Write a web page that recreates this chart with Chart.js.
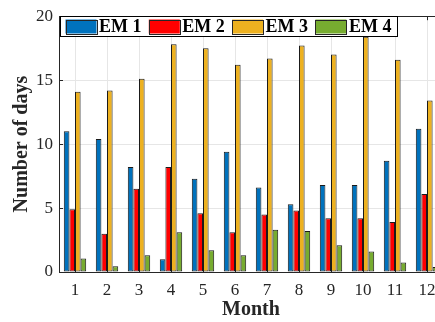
<!DOCTYPE html>
<html>
<head>
<meta charset="utf-8">
<script src="https://cdn.jsdelivr.net/npm/chart.js@4.4.1/dist/chart.umd.min.js"></script>
<style>
html,body{margin:0;padding:0;overflow:hidden;background:#fff;}
#wrap{width:445px;height:322px;position:relative;}
</style>
</head>
<body>
<div id="wrap"><canvas id="c" width="445" height="322"></canvas></div>
<script>
const months = ['1','2','3','4','5','6','7','8','9','10','11','12'];
const seriesNames = ['EM 1','EM 2','EM 3','EM 4'];
const em1 = [11.0, 10.4, 8.2, 1.0, 7.3, 9.4, 6.6, 5.3, 6.8, 6.8, 8.7, 11.2];
const em2 = [4.9, 3.0, 6.5, 8.2, 4.6, 3.1, 4.5, 4.8, 4.2, 4.2, 3.9, 6.1];
const em3 = [14.1, 14.2, 15.1, 17.8, 17.5, 16.2, 16.7, 17.7, 17.0, 18.4, 16.6, 13.4];
const em4 = [1.05, 0.45, 1.3, 3.1, 1.7, 1.3, 3.3, 3.2, 2.1, 1.6, 0.75, 0.4];
const colors = ['#0072BD','#FF0000','#EDB120','#77AC30'];
const yTicks = [0,5,10,15,20];

const FONT = "'Liberation Serif', 'Times New Roman', serif";

const boxPlugin = {
  id: 'boxPlugin',
  beforeDatasetsDraw(chart) {
    const {ctx, chartArea: a, scales} = chart;
    ctx.save();
    ctx.strokeStyle = '#262626';
    ctx.lineWidth = 1;
    ctx.beginPath();
    // top border
    ctx.moveTo(a.left, Math.round(a.top) + 0.5);
    ctx.lineTo(a.right, Math.round(a.top) + 0.5);
    // right border
    ctx.moveTo(Math.round(a.right) - 0.5, a.top);
    ctx.lineTo(Math.round(a.right) - 0.5, a.bottom);
    // left ticks
    yTicks.forEach(v => {
      const y = Math.round(scales.y.getPixelForValue(v)) + 0.5;
      ctx.moveTo(a.left, y); ctx.lineTo(a.left + 4, y);
    });
    // top/bottom ticks
    months.forEach((m, i) => {
      const x = Math.round(scales.x.getPixelForValue(i)) + 0.5;
      ctx.moveTo(x, a.top); ctx.lineTo(x, a.top + 4);
      ctx.moveTo(x, a.bottom); ctx.lineTo(x, a.bottom - 4);
    });
    ctx.stroke();
    ctx.restore();
  },
  afterDatasetsDraw(chart) {
    const {ctx, chartArea: a} = chart;
    ctx.save();
    const bx = a.left + 1, by = Math.round(a.top) + 0.5, bw = 337, bh = 20;
    ctx.fillStyle = '#fff';
    ctx.fillRect(bx, by, bw, bh);
    ctx.strokeStyle = '#000';
    ctx.lineWidth = 1;
    ctx.strokeRect(Math.round(bx) + 0.5, by, bw, bh);
    ctx.font = "bold 18px " + FONT;
    ctx.textBaseline = 'middle';
    ctx.textAlign = 'left';
    chart.data.datasets.forEach((ds, i) => {
      const sx = bx + 5.5 + i * 83.3;
      const sy = by + 3;
      ctx.fillStyle = ds.backgroundColor;
      ctx.fillRect(sx, sy, 31, 14);
      ctx.strokeStyle = '#262626';
      ctx.strokeRect(Math.round(sx) + 0.5, Math.round(sy) + 0.5, 31, 14);
      ctx.fillStyle = '#000';
      ctx.fillText(ds.label, sx + 33.5, by + bh / 2 + 1);
    });
    ctx.restore();
  }
};

const datasets = [em1, em2, em3, em4].map((d, i) => ({
  label: seriesNames[i],
  data: d,
  backgroundColor: colors[i],
  borderColor: '#1a1a1a',
  borderWidth: 1,
  borderSkipped: false,
  categoryPercentage: 0.7,
  barPercentage: 1.0
}));

new Chart(document.getElementById('c'), {
  type: 'bar',
  data: { labels: months, datasets },
  options: {
    responsive: false,
    animation: false,
    devicePixelRatio: 1,
    layout: { padding: { top: 12, right: 2, left: 0, bottom: 0 } },
    plugins: { legend: { display: false }, tooltip: { enabled: false } },
    scales: {
      x: {
        grid: { offset: false, color: '#e6e6e6', drawTicks: false },
        border: { color: '#262626', width: 1 },
        ticks: { color: '#262626', font: { family: FONT, size: 17 }, padding: 8, maxRotation: 0 },
        title: { display: true, text: 'Month', color: '#262626', font: { family: FONT, size: 20, weight: 'bold' }, padding: { top: 0, bottom: 0 } },
        afterFit(s) { s.height = 50; }
      },
      y: {
        min: 0, max: 20,
        afterBuildTicks(s) { s.ticks = yTicks.map(v => ({ value: v })); },
        grid: { color: '#e6e6e6', drawTicks: false },
        border: { color: '#262626', width: 1 },
        ticks: { color: '#262626', font: { family: FONT, size: 17 }, padding: 6 },
        title: { display: true, text: 'Number of days', color: '#262626', font: { family: FONT, size: 20, weight: 'bold' }, padding: { top: 10, bottom: 0 } },
        afterFit(s) { s.width = 59; }
      }
    }
  },
  plugins: [boxPlugin]
});
</script>
</body>
</html>
